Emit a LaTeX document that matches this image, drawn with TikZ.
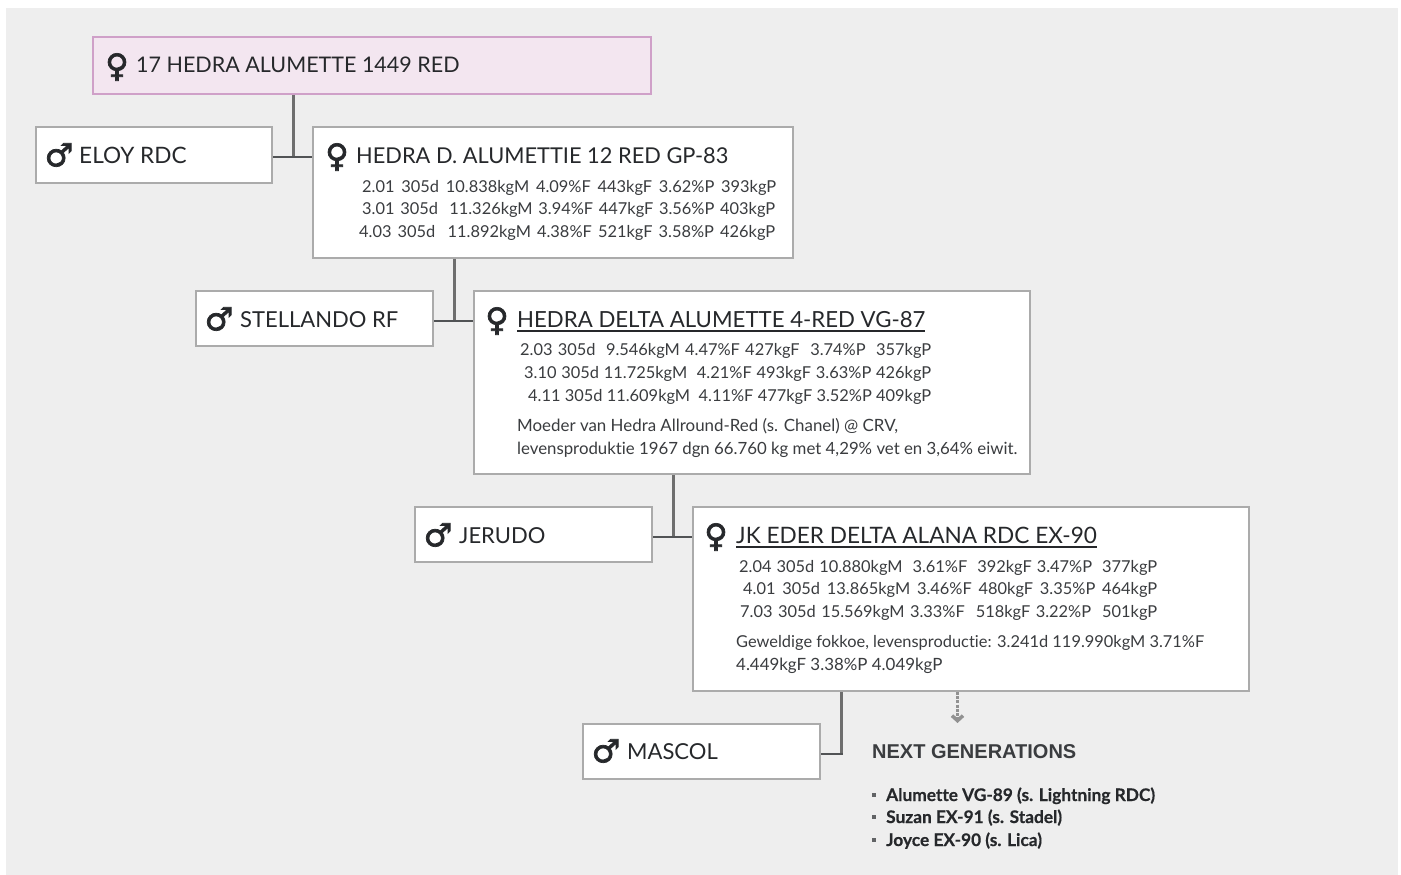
\documentclass[tikz,border=0pt]{standalone}
\usepackage{fontspec}
\setmainfont{Lato}[Ligatures={NoCommon}]
\newfontfamily\symfont{DejaVu Sans}[FakeBold=2.2]
\newfontfamily\headfont{Liberation Sans}
\usetikzlibrary{arrows.meta}
\definecolor{pagegrey}{HTML}{EEEEEE}
\definecolor{boxgrey}{HTML}{ABABAB}
\definecolor{linegrey}{HTML}{6E6E6E}
\definecolor{rootfill}{HTML}{F3E6F0}
\definecolor{rootdraw}{HTML}{CFA0C8}
\definecolor{inkdark}{HTML}{26282B}
\definecolor{inkstat}{HTML}{3A3C3F}
\newcommand{\nameline}[1]{\setbox0=\hbox{#1}\rlap{\rule[-4.5pt]{\wd0}{1.6pt}}\box0}
\newcommand{\statrow}[2]{\makebox[#1pt][s]{#2}}

\begin{document}
\begin{tikzpicture}[x=1pt,y=-1pt]
\useasboundingbox (0,0) rectangle (1401,875);
\fill [pagegrey] (6,8) rectangle (1398,875);
\begin{scope}[every node/.style={draw=boxgrey,fill=white,line width=2pt,anchor=north west,inner sep=0pt}]
    \node (eloy) at (35,126) [minimum width=236pt,minimum height=56pt] {};
    \node (alumettie) at (312,126) [minimum width=480pt,minimum height=131pt] {};
    \node (stellando) at (195,290) [minimum width=237pt,minimum height=55pt] {};
    \node (delta) at (473,290) [minimum width=556pt,minimum height=183pt] {};
    \node (jerudo) at (414,506) [minimum width=237pt,minimum height=55pt] {};
    \node (eder) at (692,506) [minimum width=556pt,minimum height=184pt] {};
    \node (mascol) at (582,723) [minimum width=237pt,minimum height=55pt] {};
    \node (root) at (92,36) [minimum width=558pt,minimum height=57pt,fill=rootfill,draw=rootdraw] {};
\end{scope}
\coordinate (joinA) at (293.5,157);
\coordinate (joinB) at (454.5,321);
\coordinate (joinC) at (673.5,537);
\coordinate (joinD) at (841.5,754);
\coordinate (nextend) at (957.5,723);
\begin{scope}[every edge/.style={draw=linegrey,line width=3pt}]
    \path [-] (joinA |- root.south) edge (joinA);
    \path [-] (joinB |- alumettie.south) edge (joinB);
    \path [-] (joinC |- delta.south) edge (joinC);
    \path [-] (joinD |- eder.south) edge ([yshift=1pt]joinD);
\end{scope}
\begin{scope}[every edge/.style={draw=inkdark!80!white,line width=1.5pt}]
    \path [-] (eloy.east |- joinA) edge (alumettie.west |- joinA);
    \path [-] (stellando.east |- joinB) edge (delta.west |- joinB);
    \path [-] (jerudo.east |- joinC) edge (eder.west |- joinC);
    \path [-] (mascol.east |- joinD) edge ([xshift=1.5pt]joinD);
\end{scope}
\begin{scope}[>={Straight Barb[length=5pt,width=11pt]},
              every edge/.style={draw=boxgrey!85!black,line width=3.5pt,dash pattern=on 3pt off 1.2pt}]
    \path [->] (nextend |- eder.south) edge (nextend);
\end{scope}
\begin{scope}[every node/.style={anchor=center,inner sep=0pt,text=inkdark,font=\symfont\fontsize{32}{32}\selectfont}]
    \node (rootsign) at (117,67) {♀};
    \node (alumettiesign) at (337,157) {♀};
    \node (deltasign) at (497,321) {♀};
    \node (edersign) at (716,537) {♀};
    \node (eloysign) at (59,155) {♂};
    \node (stellandosign) at (219,319) {♂};
    \node (jerudosign) at (438,535) {♂};
    \node (mascolsign) at (606,751) {♂};
\end{scope}
\begin{scope}[every node/.style={anchor=base west,inner sep=0pt,text=inkdark,font=\fontsize{22}{22}\selectfont}]
    \node (rootname) at (136,73) [font=\fontsize{21.5}{22}\selectfont] {17 HEDRA ALUMETTE 1449 RED};
    \node (eloyname) at (79,163) [font=\fontsize{22.6}{22}\selectfont] {ELOY RDC};
    \node (alumettiename) at (356,163) [font=\fontsize{21.8}{22}\selectfont] {HEDRA D. ALUMETTIE 12 RED GP-83};
    \node (stellandoname) at (240,327) {STELLANDO RF};
    \node (deltaname) at (517,327) [font=\fontsize{22.2}{22}\selectfont] {\nameline{HEDRA DELTA ALUMETTE 4-RED VG-87}};
    \node (jerudoname) at (459,543) {JERUDO};
    \node (edername) at (736,543) [font=\fontsize{22.6}{22}\selectfont] {\nameline{JK EDER DELTA ALANA RDC EX-90}};
    \node (mascolname) at (627,759) {MASCOL};
\end{scope}
\begin{scope}[every node/.style={anchor=base west,inner sep=0pt,text=inkstat,font=\fontsize{16.4}{17}\selectfont}]
    \node (alumettieA) at (362,192) {\statrow{414}{2.01 305d 10.838kgM 4.09\%F 443kgF 3.62\%P 393kgP}};
    \node (alumettieB) at (362,214) {\statrow{413}{3.01 305d\ \ 11.326kgM 3.94\%F 447kgF 3.56\%P 403kgP}};
    \node (alumettieC) at (359,237) {\statrow{416}{4.03 305d\ \ 11.892kgM 4.38\%F 521kgF 3.58\%P 426kgP}};
    \node (deltaA) at (520,355) {\statrow{411}{2.03 305d\ \ 9.546kgM 4.47\%F 427kgF\ \ 3.74\%P\ \ 357kgP}};
    \node (deltaB) at (524,378) {\statrow{407}{3.10 305d 11.725kgM\ \ 4.21\%F 493kgF 3.63\%P 426kgP}};
    \node (deltaC) at (528,401) {\statrow{403}{4.11 305d 11.609kgM\ \ 4.11\%F 477kgF 3.52\%P 409kgP}};
    \node (deltanoteA) at (517,431) [font=\fontsize{16.9}{17}\selectfont] {Moeder van Hedra Allround-Red (s. Chanel) @ CRV,};
    \node (deltanoteB) at (517,454) [font=\fontsize{16.8}{17}\selectfont] {levensproduktie 1967 dgn 66.760 kg met 4,29\% vet en 3,64\% eiwit.};
    \node (ederA) at (739,572) {\statrow{418}{2.04 305d 10.880kgM\ \ 3.61\%F\ \ 392kgF 3.47\%P\ \ 377kgP}};
    \node (ederB) at (743,594) {\statrow{414}{4.01 305d 13.865kgM 3.46\%F 480kgF 3.35\%P 464kgP}};
    \node (ederC) at (740,617) {\statrow{417}{7.03 305d 15.569kgM 3.33\%F\ \ 518kgF 3.22\%P\ \ 501kgP}};
    \node (edernoteA) at (736,647) {Geweldige fokkoe, levensproductie: 3.241d 119.990kgM 3.71\%F};
    \node (edernoteB) at (736,670) [font=\fontsize{16.9}{17}\selectfont] {4.449kgF 3.38\%P 4.049kgP};
\end{scope}
\node (nexthead) at (872,758) [anchor=base west,inner sep=0pt,text=inkstat,font=\headfont\bfseries\fontsize{20}{20}\selectfont] {NEXT GENERATIONS};
\begin{scope}[every node/.style={anchor=base west,inner sep=0pt,text=inkdark,font=\bfseries\addfontfeature{FakeBold=0.5}\fontsize{17.3}{18}\selectfont}]
    \node (nextA) at (886,801) {Alumette VG-89 (s. Lightning RDC)};
    \node (nextB) at (886,823) {Suzan EX-91 (s. Stadel)};
    \node (nextC) at (886,846) {Joyce EX-90 (s. Lica)};
\end{scope}
\begin{scope}[every node/.style={fill=inkstat!80!white,inner sep=0pt,minimum size=4pt}]
    \node (dotA) at (874,795) {};
    \node (dotB) at (874,817) {};
    \node (dotC) at (874,840) {};
\end{scope}
\end{tikzpicture}
\end{document}
